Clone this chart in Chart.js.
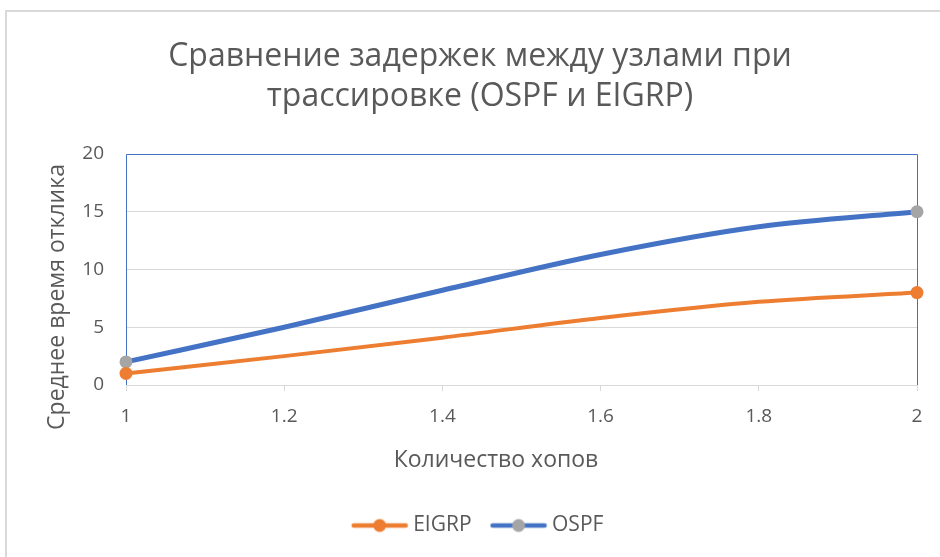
<!DOCTYPE html>
<html>
<head>
<meta charset="utf-8">
<script src="https://cdn.jsdelivr.net/npm/chart.js@4.4.1/dist/chart.umd.min.js"></script>
<style>
  html, body { margin: 0; padding: 0; background: #fff; }
  #frame { position: absolute; left: 5px; top: 10px; width: 960px; height: 580px;
           border-left: 2px solid #D9D9D9; border-top: 2px solid #D9D9D9; }
  #myChart { position: absolute; left: 0; top: 0; }
</style>
</head>
<body>
<div id="frame"></div>
<canvas id="myChart" width="940" height="557"></canvas>
<script>
(function () {
  'use strict'

  // values
  var hops = [1, 1.2, 1.4, 1.6, 1.8, 2]
  var eigrp = [1, 2.5, 4.1, 5.8, 7.2, 8]
  var ospf = [2, 5.0, 8.2, 11.3, 13.7, 15]
  var seriesNames = ['EIGRP', 'OSPF']

  var title = ['Сравнение задержек между узлами при', 'трассировке (OSPF и EIGRP)']
  var xTitle = 'Количество хопов'
  var yTitle = 'Среднее время отклика'

  var textColor = '#595959'
  var gridColor = '#D9D9D9'
  var font = "'Open Sans', sans-serif"

  var toPoints = function (ys) {
    return hops.map(function (x, i) { return { x: x, y: ys[i] } })
  }

  // endpoint markers only
  var endRadius = function (ctx) {
    return (ctx.dataIndex === 0 || ctx.dataIndex === hops.length - 1) ? 6.5 : 0
  }

  // legend icon: line with a dot
  var makeIcon = function (lineColor, dotColor) {
    var c = document.createElement('canvas')
    c.width = 58
    c.height = 16
    var g = c.getContext('2d')
    g.strokeStyle = lineColor
    g.lineWidth = 4.5
    g.lineCap = 'round'
    g.beginPath()
    g.moveTo(3, 8)
    g.lineTo(55, 8)
    g.stroke()
    g.fillStyle = dotColor
    g.beginPath()
    g.arc(29, 8, 6.5, 0, Math.PI * 2)
    g.fill()
    return c
  }
  var icons = [makeIcon('#ED7D31', '#ED7D31'), makeIcon('#4472C4', '#A5A5A5')]

  var plotFrame = {
    id: 'plotFrame',
    beforeDatasetsDraw: function (chart) {
      var a = chart.chartArea
      var c = chart.ctx
      c.save()
      c.strokeStyle = '#4472C4'
      c.lineWidth = 1
      c.beginPath()
      c.moveTo(a.left + 0.5, a.bottom)
      c.lineTo(a.left + 0.5, a.top + 0.5)
      c.lineTo(a.right + 0.5, a.top + 0.5)
      c.lineTo(a.right + 0.5, a.bottom)
      c.stroke()
      c.restore()
    },
    afterDraw: function (chart) {
      var c = chart.ctx
      c.save()
      c.fillStyle = textColor
      c.textAlign = 'center'
      c.textBaseline = 'middle'
      c.font = '23px ' + font
      c.fillText(xTitle, 496, 460)
      c.translate(57, 297)
      c.rotate(-Math.PI / 2)
      c.fillText(yTitle, 0, 0)
      c.restore()
    }
  }

  var ctx = document.getElementById('myChart')
  var myChart = new Chart(ctx, {
    type: 'scatter',
    data: {
      datasets: [{
        label: seriesNames[0],
        data: toPoints(eigrp),
        showLine: true,
        borderColor: '#ED7D31',
        backgroundColor: '#ED7D31',
        borderWidth: 4,
        pointRadius: endRadius,
        pointBorderWidth: 0,
        cubicInterpolationMode: 'monotone',
        clip: false
      }, {
        label: seriesNames[1],
        data: toPoints(ospf),
        showLine: true,
        borderColor: '#4472C4',
        backgroundColor: '#A5A5A5',
        pointBackgroundColor: '#A5A5A5',
        borderWidth: 5,
        pointRadius: endRadius,
        pointBorderWidth: 0,
        cubicInterpolationMode: 'monotone',
        clip: false
      }]
    },
    options: {
      responsive: false,
      animation: false,
      layout: { padding: { left: 43, right: 23, top: 0, bottom: 11 } },
      plugins: {
        tooltip: { enabled: false },
        title: {
          display: true,
          text: title,
          color: textColor,
          font: { family: font, size: 32, weight: 'normal', lineHeight: 40 / 32 },
          padding: { top: 37, bottom: 37 }
        },
        legend: {
          position: 'bottom',
          labels: {
            color: textColor,
            font: { family: font, size: 21 },
            usePointStyle: true,
            pointStyleWidth: 46,
            padding: 24,
            generateLabels: function (chart) {
              var items = Chart.defaults.plugins.legend.labels.generateLabels(chart)
              items.forEach(function (it, i) { it.pointStyle = icons[i] })
              return items
            }
          }
        }
      },
      scales: {
        x: {
          type: 'linear',
          min: 1,
          max: 2,
          ticks: {
            stepSize: 0.2,
            color: textColor,
            font: { family: font, size: 19 },
            padding: 14,
            callback: function (v) { return String(Math.round(v * 10) / 10) }
          },
          grid: { drawOnChartArea: false, drawTicks: true, tickLength: 6, color: gridColor },
          border: { color: gridColor, width: 1 },
          afterFit: function (scale) { scale.height = 106 }
        },
        y: {
          min: 0,
          max: 20,
          ticks: { stepSize: 5, color: textColor, font: { family: font, size: 19 }, padding: 22 },
          grid: { drawTicks: false, color: gridColor },
          border: { display: false },
          afterFit: function (scale) { scale.width = 83 }
        }
      }
    },
    plugins: [plotFrame]
  })
})()
</script>
</body>
</html>
